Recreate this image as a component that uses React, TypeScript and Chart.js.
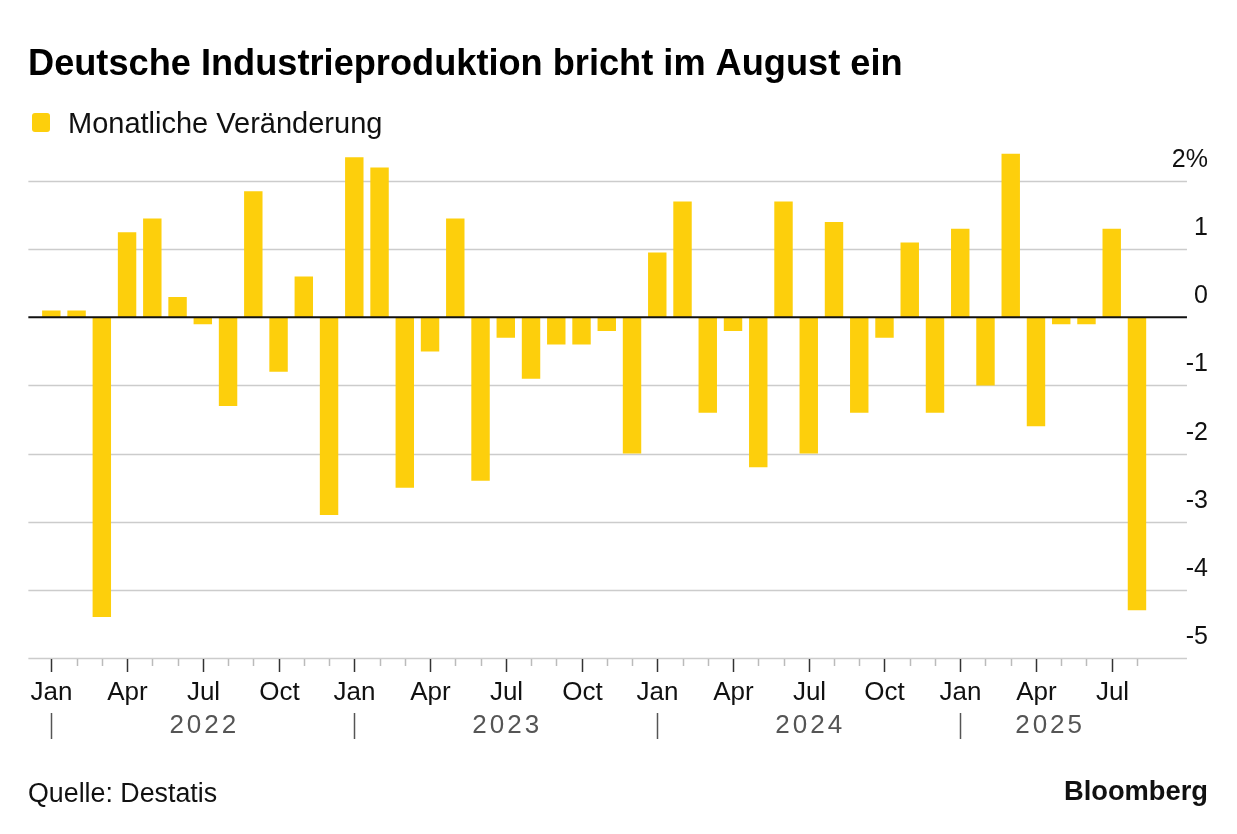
import React, { useEffect, useRef } from "react";
import { Chart, registerables } from "chart.js";

Chart.register(...registerables);

// ---- Data ----
const years = [2022, 2023, 2024, 2025];
const monthNames = ["Jan", "Feb", "Mar", "Apr", "May", "Jun", "Jul", "Aug", "Sep", "Oct", "Nov", "Dec"];
const monthCountPerYear = [12, 12, 12, 8];
const labeledMonths = ["Jan", "Apr", "Jul", "Oct"];
const monthLabelText: Record<string, string> = { Jan: "Jan", Apr: "Apr", Jul: "Jul", Oct: "Oct" };

const values2022 = [0.1, 0.1, -4.4, 1.25, 1.45, 0.3, -0.1, -1.3, 1.85, -0.8, 0.6, -2.9];
const values2023 = [2.35, 2.2, -2.5, -0.5, 1.45, -2.4, -0.3, -0.9, -0.4, -0.4, -0.2, -2.0];
const values2024 = [0.95, 1.7, -1.4, -0.2, -2.2, 1.7, -2.0, 1.4, -1.4, -0.3, 1.1, -1.4];
const values2025 = [1.3, -1.0, 2.4, -1.6, -0.1, -0.1, 1.3, -4.3];

const yTickValues = [2, 1, 0, -1, -2, -3, -4, -5];
const yTickLabels = ["2%", "1", "0", "-1", "-2", "-3", "-4", "-5"];

const titleText = "Deutsche Industrieproduktion bricht im August ein";
const legendText = "Monatliche Veränderung";
const sourceText = "Quelle: Destatis";
const brandText = "Bloomberg";

const values = [...values2022, ...values2023, ...values2024, ...values2025];
const categories: string[] = [];
const catMonth: string[] = [];
const catYear: number[] = [];
years.forEach((yr, yi) => {
  for (let m = 0; m < monthCountPerYear[yi]; m++) {
    categories.push(`${monthNames[m]} ${yr}`);
    catMonth.push(monthNames[m]);
    catYear.push(yr);
  }
});

const YELLOW = "#FDCF0C";
const FONT = "'Liberation Sans', Arial, Helvetica, sans-serif";

export default function App() {
  const ref = useRef<HTMLCanvasElement | null>(null);

  useEffect(() => {
    document.body.style.margin = "0";
    const canvas = ref.current!;
    const overlay = {
      id: "overlay",
      beforeDatasetsDraw(chart: any) {
        const ctx = chart.ctx;
        const x = chart.scales.x;
        const y = chart.scales.y;
        const step = x.getPixelForValue(1) - x.getPixelForValue(0);
        const gx0 = x.getPixelForValue(0) - 0.91 * step;
        const gx1 = x.getPixelForValue(categories.length - 1) + 1.98 * step;
        ctx.save();
        ctx.strokeStyle = "#cccccc";
        ctx.lineWidth = 1.5;
        yTickValues.forEach((v) => {
          if (v === 0) return;
          const py = Math.round(y.getPixelForValue(v)) + 0.5;
          ctx.beginPath();
          ctx.moveTo(gx0, py);
          ctx.lineTo(gx1, py);
          ctx.stroke();
        });
        ctx.restore();
      },
      afterDatasetsDraw(chart: any) {
        const ctx = chart.ctx;
        const x = chart.scales.x;
        const y = chart.scales.y;
        const step = x.getPixelForValue(1) - x.getPixelForValue(0);
        const gx0 = x.getPixelForValue(0) - 0.91 * step;
        const gx1 = x.getPixelForValue(categories.length - 1) + 1.98 * step;
        ctx.save();
        // zero line
        const zy = y.getPixelForValue(0);
        ctx.strokeStyle = "#111";
        ctx.lineWidth = 2;
        ctx.beginPath();
        ctx.moveTo(gx0, zy);
        ctx.lineTo(gx1, zy);
        ctx.stroke();

        // y tick labels
        ctx.fillStyle = "#111";
        ctx.font = `25px ${FONT}`;
        ctx.textAlign = "right";
        ctx.textBaseline = "alphabetic";
        yTickValues.forEach((v, i) => {
          const py = y.getPixelForValue(v);
          ctx.fillText(yTickLabels[i], 1208, py - 14);
        });

        // x ticks
        const axisY = y.getPixelForValue(-5);
        categories.forEach((c, i) => {
          const px = Math.round(x.getPixelForValue(i)) + 0.5;
          const major = labeledMonths.includes(catMonth[i]);
          ctx.strokeStyle = major ? "#333" : "#bbbbbb";
          ctx.lineWidth = 1.5;
          ctx.beginPath();
          ctx.moveTo(px, axisY + 1);
          ctx.lineTo(px, axisY + (major ? 14 : 8));
          ctx.stroke();
          if (major) {
            ctx.fillStyle = "#111";
            ctx.font = `26px ${FONT}`;
            ctx.textAlign = "center";
            ctx.fillText(monthLabelText[catMonth[i]], px, axisY + 42);
          }
        });

        // year separators and labels
        years.forEach((yr, yi) => {
          const start = catYear.indexOf(yr);
          const count = monthCountPerYear[yi];
          const sx = Math.round(x.getPixelForValue(start)) + 0.5;
          ctx.strokeStyle = "#555";
          ctx.lineWidth = 1.5;
          ctx.beginPath();
          ctx.moveTo(sx, axisY + 55);
          ctx.lineTo(sx, axisY + 81);
          ctx.stroke();
          const endIdx = count === 12 ? start + 12 : start + count - 1;
          const cx = x.getPixelForValue(start) + ((endIdx - start) / 2) * step;
          ctx.fillStyle = "#555";
          ctx.font = `26px ${FONT}`;
          (ctx as any).letterSpacing = "3px";
          ctx.textAlign = "center";
          ctx.fillText(String(yr), cx + 1.5, axisY + 75);
          (ctx as any).letterSpacing = "0px";
        });

        // title
        ctx.textAlign = "left";
        ctx.fillStyle = "#000";
        ctx.font = `bold 36.2px ${FONT}`;
        ctx.fillText(titleText, 28, 75);

        // legend
        ctx.fillStyle = YELLOW;
        ctx.beginPath();
        (ctx as any).roundRect(32, 113, 18, 19, 3);
        ctx.fill();
        ctx.fillStyle = "#111";
        ctx.font = `29px ${FONT}`;
        ctx.fillText(legendText, 68, 133);

        // source
        ctx.font = `26.8px ${FONT}`;
        ctx.fillText(sourceText, 28, 802);

        // brand
        ctx.textAlign = "right";
        ctx.font = `bold 27.3px ${FONT}`;
        ctx.fillText(brandText, 1208, 800);
        ctx.restore();
      },
    };

    const chart = new Chart(canvas, {
      type: "bar",
      data: {
        labels: categories,
        datasets: [
          {
            label: legendText,
            data: values,
            backgroundColor: YELLOW,
            borderWidth: 0,
            barPercentage: 0.73,
            categoryPercentage: 1,
          },
        ],
      },
      options: {
        responsive: false,
        animation: false,
        devicePixelRatio: 1,
        layout: { padding: { left: 38.7, right: 87.4, top: 147, bottom: 176 } },
        plugins: { legend: { display: false }, tooltip: { enabled: false }, title: { display: false } },
        scales: {
          x: { type: "category", display: false, offset: true },
          y: { display: false, min: -5, max: 2.5 },
        },
      },
      plugins: [overlay],
    });
    return () => chart.destroy();
  }, []);

  return <canvas ref={ref} width={1237} height={834} style={{ display: "block" }} />;
}
